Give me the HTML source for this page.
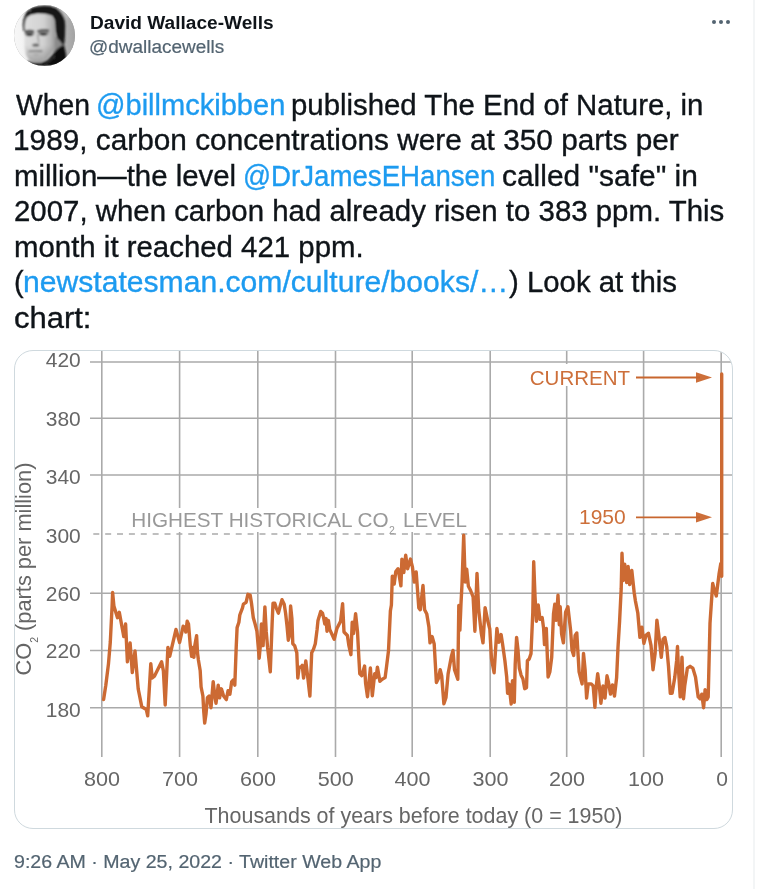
<!DOCTYPE html>
<html><head><meta charset="utf-8">
<style>
*{margin:0;padding:0;box-sizing:border-box}
html,body{width:768px;height:889px;background:#fff;overflow:hidden}
body{position:relative;font-family:"Liberation Sans",Arial,sans-serif;color:#0f1419}
.vline{position:absolute;left:753px;top:0;width:2px;height:889px;background:#f3f5f6}
.avatar{position:absolute;left:14px;top:5px;width:61px;height:61px;border-radius:50%;overflow:hidden;background:#9a9a9a}
.name{position:absolute;left:90px;top:10.7px;font-weight:bold;font-size:19.1px;line-height:24px;white-space:nowrap;color:#0f1419}
.handle{position:absolute;left:89px;top:34.6px;font-size:18.8px;line-height:24px;white-space:nowrap;color:#536471;-webkit-text-stroke:0.2px currentColor;transform:scaleX(1.01);transform-origin:0 0}
.dots{position:absolute;left:712px;top:19.5px;width:20px;height:5px}
.dots i{position:absolute;top:0;width:4px;height:4px;border-radius:50%;background:#536471}
.tl{position:absolute;left:15px;font-size:29px;line-height:36px;white-space:nowrap;transform-origin:0 0;color:#0f1419;-webkit-text-stroke:0.35px currentColor}
.tl a{color:#1d9bf0;text-decoration:none}
.card{position:absolute;left:14px;top:350px;width:719px;height:479px;border:1px solid #cfd9de;border-radius:19px;overflow:hidden;background:#fff}
.card svg{position:absolute;left:-15px;top:-351px}
.ts{position:absolute;left:14px;top:850px;-webkit-text-stroke:0.2px currentColor;font-size:18.8px;line-height:24px;white-space:nowrap;color:#536471;transform-origin:0 0;transform:scaleX(1.043)}
</style></head><body>
<div class="vline"></div>
<div class="avatar">
<svg width="61" height="61" viewBox="0 0 61 61">
<defs>
<linearGradient id="abg" x1="0" y1="0" x2="1" y2="0"><stop offset="0" stop-color="#f7f7f7"/><stop offset="0.3" stop-color="#f0f0f0"/><stop offset="0.7" stop-color="#c2c2c2"/><stop offset="1" stop-color="#a2a2a2"/></linearGradient>
<linearGradient id="aface" x1="0" y1="0" x2="1" y2="0"><stop offset="0" stop-color="#dedede"/><stop offset="0.6" stop-color="#d2d2d2"/><stop offset="0.85" stop-color="#b4b4b4"/><stop offset="1" stop-color="#8e8e8e"/></linearGradient>
<linearGradient id="ajaw" x1="0" y1="0" x2="0" y2="1"><stop offset="0" stop-color="#000" stop-opacity="0"/><stop offset="1" stop-color="#000" stop-opacity="0.25"/></linearGradient>
<filter id="ablur" x="-10%" y="-10%" width="120%" height="120%"><feGaussianBlur stdDeviation="0.95"/></filter>
</defs>
<rect width="61" height="61" fill="url(#abg)"/>
<g filter="url(#ablur)">
<path d="M38 0 L52 4 L56 12 L50 14 L44 6 Z" fill="#bdbdbd"/>
<path d="M11.3 26 L11 21 L11.5 16 L13 12.5 L17 10 L24 8.9 L32 9.2 L38 11 L40.5 15 L41 25 L42 33 L41 42 L38 48 L33 54 L27 57.5 L20 57.5 L15 55 L12 50 L10.5 42 L10.5 33 Z" fill="url(#aface)"/>
<path d="M10.5 40 L41 40 L38 48 L33 54 L27 57.5 L20 57.5 L15 55 L12 50 Z" fill="url(#ajaw)"/>
<path d="M41 32 L47 33 L49.5 38 L47 44 L43 47 L39 48 L41 42 Z" fill="#8a8a8a"/>
<path d="M9.5 26 L8.8 20 L9.3 15 L11 10 L13.5 5.5 L17 3 L22 1.5 L30 0.8 L37 1.2 L42 2.5 L45 5 L48 8.5 L50.5 13 L51.2 20 L51 31 L50.5 37 L49.5 41 L46 36 L43 33 L41.5 25 L40.8 15 L38.3 10.8 L32 8.9 L24 8.6 L17 9.7 L13 12.2 L11.3 16 L10.8 21 L11.2 26 Z" fill="#161616"/>
<path d="M14.5 5.5 Q16 4.5 17 5.8 Q15.5 7 14.5 5.5 Z" fill="#8a8a8a"/>
<ellipse cx="15.5" cy="28.3" rx="5" ry="3.2" fill="#8e8e8e"/>
<ellipse cx="29.5" cy="28" rx="5.5" ry="3" fill="#949494"/>
<path d="M10.8 25.8 Q15 23.8 20.2 25.4 L20 27.2 Q15 26 11 27.6 Z" fill="#262626"/>
<path d="M23 25.4 Q29 23.6 35.2 24.8 L35 26.6 Q29 25.4 23.2 27.2 Z" fill="#262626"/>
<ellipse cx="15.5" cy="29.6" rx="3.4" ry="1.4" fill="#1a1a1a"/>
<ellipse cx="29.3" cy="29.1" rx="3.8" ry="1.3" fill="#1a1a1a"/>
<path d="M23.6 29 L24.8 38" stroke="#a2a2a2" stroke-width="1.6" fill="none"/>
<ellipse cx="21.8" cy="40" rx="3.6" ry="1.5" fill="#5a5a5a"/>
<path d="M14.5 46.4 Q21 45.4 28.3 46.2" stroke="#666" stroke-width="1.4" fill="none"/>
<ellipse cx="22" cy="49.6" rx="3" ry="0.8" fill="#a6a6a6"/>
<path d="M12.8 61 L13.3 55.5 L20 57.8 L27 57.8 L33 55 L38 50 L43 44 L47 41 L50 40 L51.8 48 L53 61 Z" fill="#111"/>
<path d="M31 59 L41.3 51" stroke="#5a5a5a" stroke-width="0.8"/>
</g>
</svg>
</div>
<div class="name">David Wallace-Wells</div>
<div class="handle">@dwallacewells</div>
<div class="dots"><i style="left:0"></i><i style="left:7px"></i><i style="left:14px"></i></div>

<div class="tl" style="top:86.7px;left:15.50px;transform:scaleX(0.9770);color:#0f1419">When</div>
<div class="tl" style="top:86.7px;left:96.00px;transform:scaleX(1.0016);color:#1d9bf0">@billmckibben</div>
<div class="tl" style="top:86.7px;left:291.18px;transform:scaleX(1.0124);color:#0f1419">published The End of Nature, in</div>
<div class="tl" style="top:122.2px;left:12.95px;transform:scaleX(1.0272);color:#0f1419">1989, carbon concentrations were at 350 parts per</div>
<div class="tl" style="top:157.7px;left:13.57px;transform:scaleX(1.0134);color:#0f1419">million—the level</div>
<div class="tl" style="top:157.7px;left:243.09px;transform:scaleX(0.9531);color:#1d9bf0">@DrJamesEHansen</div>
<div class="tl" style="top:157.7px;left:502.27px;transform:scaleX(1.0316);color:#0f1419">called "safe" in</div>
<div class="tl" style="top:193.2px;left:13.99px;transform:scaleX(1.0136);color:#0f1419">2007, when carbon had already risen to 383 ppm. This</div>
<div class="tl" style="top:228.7px;left:13.57px;transform:scaleX(1.0135);color:#0f1419">month it reached 421 ppm.</div>
<div class="tl" style="top:264.2px;left:14.00px;transform:scaleX(1.0000);color:#0f1419">(</div>
<div class="tl" style="top:264.2px;left:22.52px;transform:scaleX(1.0385);color:#1d9bf0">newstatesman.com/culture/books/…</div>
<div class="tl" style="top:264.2px;left:509.00px;transform:scaleX(1.0121);color:#0f1419">) Look at this</div>
<div class="tl" style="top:299.7px;left:14.23px;transform:scaleX(1.0681);color:#0f1419">chart:</div>

<div class="card">
<svg width="768" height="889" viewBox="0 0 768 889" font-family="Liberation Sans, Arial, sans-serif">
<g stroke="#aaaaaa" stroke-width="1.6" fill="none">
<!-- horizontal gridlines -->
<path d="M90 362H732 M90 418.2H732 M90 475H732 M90 593.2H732 M90 650.5H732 M90 707.8H732"/>
<!-- vertical gridlines -->
<path d="M101.8 340V757 M179.6 340V757 M257.8 340V757 M335.5 340V757 M412.2 340V757 M490.2 340V757 M566.7 340V757 M643.6 340V757 M721.2 340V757"/>
</g>
<path d="M93.3 534H732" stroke="#aaaaaa" stroke-width="1.4" stroke-dasharray="6 5.87"/>
<!-- white boxes behind labels -->
<rect x="126" y="508" width="344" height="24" fill="#fff"/>
<rect x="527" y="364" width="106" height="22" fill="#fff"/>
<rect x="576" y="504" width="54" height="24" fill="#fff"/>
<g fill="#666" font-size="20.5" text-anchor="end">
<text x="80.8" y="367.2" textLength="35" lengthAdjust="spacingAndGlyphs">420</text>
<text x="80.8" y="425.6" textLength="35" lengthAdjust="spacingAndGlyphs">380</text>
<text x="80.8" y="483.7" textLength="35" lengthAdjust="spacingAndGlyphs">340</text>
<text x="80.8" y="542.5" textLength="35" lengthAdjust="spacingAndGlyphs">300</text>
<text x="80.8" y="601" textLength="35" lengthAdjust="spacingAndGlyphs">260</text>
<text x="80.8" y="658.4" textLength="35" lengthAdjust="spacingAndGlyphs">220</text>
<text x="80.8" y="716.9" textLength="35" lengthAdjust="spacingAndGlyphs">180</text>
</g>
<g fill="#666" font-size="21" text-anchor="middle">
<text x="102.1" y="786.4" textLength="36" lengthAdjust="spacingAndGlyphs">800</text>
<text x="179.9" y="786.4" textLength="36" lengthAdjust="spacingAndGlyphs">700</text>
<text x="258.1" y="786.4" textLength="36" lengthAdjust="spacingAndGlyphs">600</text>
<text x="335.8" y="786.4" textLength="36" lengthAdjust="spacingAndGlyphs">500</text>
<text x="412.5" y="786.4" textLength="36" lengthAdjust="spacingAndGlyphs">400</text>
<text x="490.5" y="786.4" textLength="36" lengthAdjust="spacingAndGlyphs">300</text>
<text x="567.0" y="786.4" textLength="36" lengthAdjust="spacingAndGlyphs">200</text>
<text x="645.9" y="786.4" textLength="36" lengthAdjust="spacingAndGlyphs">100</text>
<text x="722" y="786.4">0</text>
</g>
<text x="204.5" y="822.8" fill="#666" font-size="21.6" textLength="418" lengthAdjust="spacingAndGlyphs">Thousands of years before today (0 = 1950)</text>
<text transform="translate(31.3 675.5) rotate(-90)" fill="#666" font-size="21.8">CO<tspan font-size="10.5" dy="6.8">2</tspan><tspan dy="-6.8"> (parts per million)</tspan></text>
<text x="131.2" y="526.8" fill="#999" font-size="20.2" textLength="257.5" lengthAdjust="spacingAndGlyphs">HIGHEST HISTORICAL CO</text><text x="389" y="533.6" fill="#999" font-size="10.5">2</text><text x="403" y="526.8" fill="#999" font-size="20.2" textLength="64" lengthAdjust="spacingAndGlyphs">LEVEL</text>
<g fill="#cd6f3a">
<text x="529.8" y="384.7" font-size="20.5">CURRENT</text>
<text x="579" y="524.2" font-size="21">1950</text>
<path d="M696 372.2L712 377.5L696 382.8Z"/>
<path d="M696 512L712 517.3L696 522.6Z"/>
</g>
<path d="M636 377.5H700 M636 517.3H700" stroke="#c8662e" stroke-width="1.8"/>
<polyline fill="none" stroke="#cc6a33" stroke-width="3.4" stroke-linejoin="round" stroke-linecap="round" points="103.6,699.5 105.8,685.2 108.5,663.6 110.3,642 112.1,606 112.6,592.5 113.9,606 117.5,617.7 119.3,612.3 123.8,636.6 125.6,624 127.4,661.8 130.1,642.9 132.3,672.6 135,651 138.2,688.8 141.8,706.8 146.3,709.5 147.7,715.8 150.8,663.6 152.2,678 154.4,676.2 161.6,661.8 163.4,670.8 165.2,705 167.9,647.4 169.7,656.4 176,629.4 179.6,642.5 183.2,626.2 184.9,627.6 185.8,632.1 187.2,621.3 188.5,624 190.3,645.6 191.6,656.4 193,647.4 193.9,657.3 194.8,645.6 196.6,635.7 197.5,652.8 198.4,660 200.2,670.8 201.1,687 202.9,696 203.8,712.2 204.7,723 206,714 207.4,697.8 209.2,696 211,707.7 213.2,681.6 214.6,694.2 216,703.2 218.2,685.2 219.6,697.8 221.4,688.8 223.6,696 226.3,699.6 228.1,690.6 229.9,694.2 231.7,681.6 233.5,679.8 234.8,685.2 236.2,647.4 237.1,627.6 238.9,622.2 239.8,615 242.5,607.8 243.4,604.2 246.1,602.4 247.9,594.3 250.2,595.2 251.5,603.3 253.3,617.7 255.1,624 256.9,631.2 259.2,658.2 260.5,643.8 261.4,624 263.1,645.6 264,624 264.9,606.9 266.2,631.2 267.6,647.4 270.3,671.7 272.1,624 273,603.3 274.8,603.3 276.2,607.8 278.4,613.2 280.2,606 282,599.7 284.2,604.2 285.6,613.2 287,625.8 288.3,640.2 289.6,634.8 290.6,606 291.9,618.6 292.8,643.8 294.6,645.6 296.8,652.8 297.8,678 299.1,667.2 300.9,667.2 302.2,665.4 303.6,678 305.8,660.9 307.2,672.6 309.9,696 311.7,652.8 313.5,649.2 315.3,643.8 317.1,629.4 318,620.4 320.7,611.4 322.5,613.2 323.8,618.6 324.8,624 326.1,618.6 327,631.2 328.4,620.4 329.7,629.4 334.2,639.3 336.9,628.5 340.6,621.2 342.6,603.6 344,632 347.4,635.5 348.8,645.1 350.9,654.7 352.2,622.2 353.5,633.6 355.6,613.6 357.5,631.7 358.9,658.5 359.8,673.8 361.8,675.7 364.6,666.1 365.6,683.3 367.5,696.7 370.4,668 372.3,695.7 374.7,673.8 376.1,677.6 377.4,667.1 379.9,681.4 381.8,679.5 385.1,677.6 386.6,666.1 388.5,650.8 390.4,610.7 391.4,605 392.3,576.3 394.2,584 395.8,571.5 398.1,568.7 400.9,585.9 401.9,559.1 403.8,572.5 405.7,555.3 407.6,568.7 410.5,559.1 412.4,566.8 414.3,582 416.2,572 418.8,608 420.3,609.8 423,585.5 424.6,609.8 426.8,614.1 428.9,626.9 430,642.9 432.1,636.5 434.2,644 436.4,682.5 438.5,678.2 440.2,669.6 441.7,676 443.9,703.8 446,697.4 448.1,673.9 451.3,656.8 453,650.4 454.5,669.6 457.8,679.3 458.8,605.5 459.9,630.1 461,603.4 462,584.1 463.7,535.3 465.2,582 466.7,569.2 468.4,586.3 470.6,590.5 473.1,597 474.9,631.2 477,573.4 478.7,609.8 481.3,633.3 483,642.9 485.1,607.6 487.7,620.5 489.8,629 491.5,658.9 494.1,672.8 496.9,628.5 498.8,642.3 501.1,634.6 502.6,644.3 504.9,660.8 506.7,677 507.6,693.2 509,684.2 511.2,704 512.5,680.6 514.3,702.2 515.2,664.4 516.6,637.4 518,650 519.3,668 521.1,675.2 522.9,678.8 524.7,688.7 526.5,687.8 527.4,660.8 529.2,659 531,653.6 532.8,612.2 533.7,561.8 535,596 536.4,621.2 538.2,605 540,619.4 542.2,617.6 543.6,628.4 544.5,644.6 546.3,628.4 548.1,677 549.9,671.6 551.7,657.2 553.5,614 554.8,604.1 556.2,620.3 558,595.1 559.3,624.8 560.2,606.8 561.6,633.8 563.4,642.8 565.6,612.2 567.9,606.8 570.6,630.2 572,650 573.7,655.4 575.1,635.5 576.8,633 578,653.5 579.1,671.8 582.1,683.9 583.5,653.5 585.1,669.7 586.6,698.1 588.2,683.9 591.2,683.9 593.2,686 594.9,707.2 596.3,686 597.7,673.8 599.3,686 600.9,703.2 603,686 605,698.1 607,675.8 608.4,681.9 610.5,694.1 612.5,684.9 614.5,696.1 616.6,677.8 618,647.4 619.6,621.1 621.2,588.7 622,553.2 623.2,580.5 624.7,564.3 626.7,582.6 628.1,566.4 629.7,584.6 631.8,570.4 634.2,592.7 635.4,600.8 637.8,613 639.9,637.3 641.9,627.2 643.9,643.4 646,635.3 648.4,633.2 651,645.4 653,669.7 655.1,653.5 656.9,620.2 658.6,633.5 661.3,657.3 663.1,639.3 664.9,637.5 666.7,646.5 668.5,666.3 670.3,693.3 672.1,693.3 674.8,677.1 676.6,660.9 677.5,646.5 678.4,668.1 680.2,696.9 682,657.3 683.5,698.7 684.7,686.1 687.4,668.1 690.1,666.3 692.8,668.1 695.5,677.1 698.2,696.9 700,698.7 701.8,694.2 703.6,707.7 705.1,689.7 706.9,699.6 708.2,696.9 710,623.1 712.7,583.4 714.5,590.6 716.3,596 719,574.4 720.8,563.6 721.7,576.2 721.7,374"/>
</svg>
</div>

<div class="ts" id="ts">9:26 AM · May 25, 2022 · Twitter Web App</div>
</body></html>
